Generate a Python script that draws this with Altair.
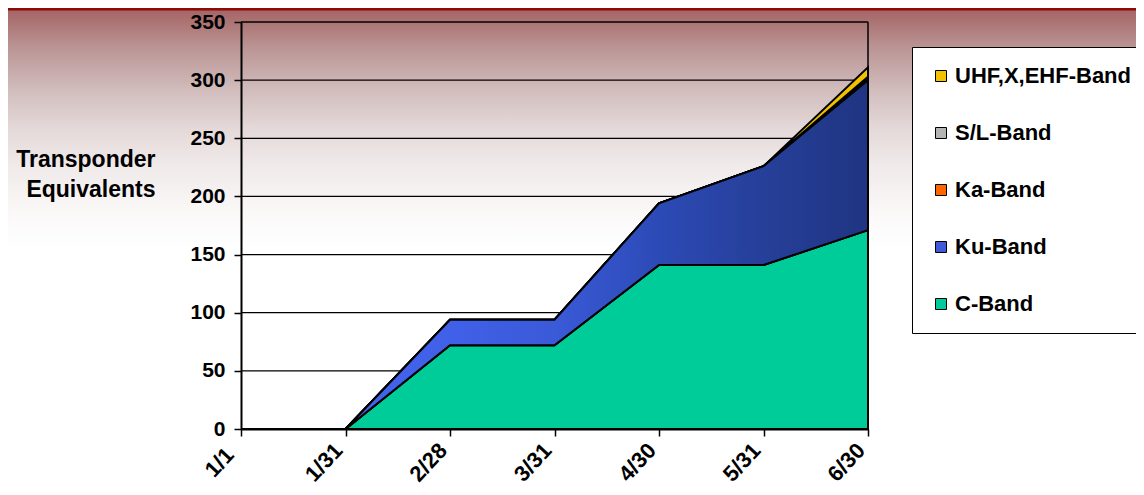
import altair as alt
import pandas as pd

# ---- data ----
dates = ["1/1", "1/31", "2/28", "3/31", "4/30", "5/31", "6/30"]
bands = ["C-Band", "Ku-Band", "Ka-Band", "S/L-Band", "UHF,X,EHF-Band"]
c_band = [0, 0, 72, 72, 141, 141, 171]
ku_band = [0, 0, 22, 22, 53, 85, 129]
ka_band = [0, 0, 0, 0, 0, 0, 1]
sl_band = [0, 0, 0, 0, 0, 0, 2]
uhf_band = [0, 0, 0, 0, 0, 0, 8]
band_colors = ["#00CC99", "#3D5BD6", "#FF6600", "#B4B4B4", "#F2C200"]
y_ticks = [0, 50, 100, 150, 200, 250, 300, 350]
legend_order = ["UHF,X,EHF-Band", "S/L-Band", "Ka-Band", "Ku-Band", "C-Band"]

series = [c_band, ku_band, ka_band, sl_band, uhf_band]
rows = []
for i, (b, vals) in enumerate(zip(bands, series)):
    for d, v in zip(dates, vals):
        rows.append({"date": d, "band": b, "value": v, "order": i})
long_df = pd.DataFrame(rows)
grid_df = pd.DataFrame({"value": y_ticks[1:]})
one = pd.DataFrame({"k": [0]})

W, H = 627, 407
PL, PT, PR, PB = 233, 14, 268, 58
FONT = "Liberation Sans"

xscale = alt.Scale(type="point", domain=dates, padding=0)
yscale = alt.Scale(domain=[0, 350], nice=False)
color_scale = alt.Scale(domain=legend_order,
                        range=[band_colors[4], band_colors[3], band_colors[2], band_colors[1], band_colors[0]])

x_axis = alt.Axis(title=None, labelAngle=-47, labelAlign="center", labelBaseline="middle",
                  labelOffset=-22, labelPadding=26, tickSize=7, zindex=1, grid=False,
                  labelFontSize=22)
y_axis = alt.Axis(values=y_ticks, title=["Transponder", "Equivalents"], grid=False,
                  tickSize=7, labelPadding=9, zindex=1, labelFontSize=21,
                  titleAngle=0, titleAlign="right", titleBaseline="top",
                  titleX=-86, titleY=126, titleLineHeight=30, titleFontSize=23)

bg_grad = alt.Gradient(
    gradient="linear", x1=0, y1=0, x2=0, y2=1,
    stops=[
        alt.GradientStop(offset=0.0, color="#a46262"),
        alt.GradientStop(offset=0.08, color="#ba9393"),
        alt.GradientStop(offset=0.17, color="#d1bcbc"),
        alt.GradientStop(offset=0.25, color="#e4d8d8"),
        alt.GradientStop(offset=0.33, color="#f0eaea"),
        alt.GradientStop(offset=0.42, color="#faf7f7"),
        alt.GradientStop(offset=0.5, color="#ffffff"),
        alt.GradientStop(offset=1.0, color="#ffffff"),
    ],
)
ku_grad = alt.Gradient(
    gradient="linear", x1=0, y1=0, x2=1, y2=0,
    stops=[
        alt.GradientStop(offset=0.0, color="#4668f2"),
        alt.GradientStop(offset=0.335, color="#4060e8"),
        alt.GradientStop(offset=0.5, color="#3a5ad8"),
        alt.GradientStop(offset=0.67, color="#2c4ab5"),
        alt.GradientStop(offset=0.83, color="#263f99"),
        alt.GradientStop(offset=1.0, color="#1f3582"),
    ],
)

background = alt.Chart(one).mark_rect(fill=bg_grad).encode(
    x=alt.value(-PL), x2=alt.value(W + PR), y=alt.value(-PT), y2=alt.value(H + PB)
)
top_line = alt.Chart(one).mark_rule(color="#8B0A0A", strokeWidth=3).encode(
    x=alt.value(-PL), x2=alt.value(W + PR), y=alt.value(-PT + 1)
)

grid = alt.Chart(grid_df).mark_rule(color="black", strokeWidth=1.3).encode(
    y=alt.Y("value:Q", scale=yscale, axis=y_axis)
)

areas = alt.Chart(long_df).mark_area(stroke="black", strokeWidth=2, strokeJoin="miter").encode(
    x=alt.X("date:O", scale=xscale, sort=dates, axis=x_axis),
    y=alt.Y("value:Q", stack="zero", scale=yscale, axis=y_axis),
    color=alt.Color("band:N", scale=color_scale,
                    legend=alt.Legend(title=None, orient="none", legendX=671, legendY=25)),
    order=alt.Order("order:Q", sort="ascending"),
)

ku_overlay = alt.Chart(long_df).transform_stack(
    stack="value", groupby=["date"], as_=["y0", "y1"],
    sort=[alt.SortField(field="order", order="ascending")],
).transform_filter(alt.datum.band == "Ku-Band").mark_area(
    fill=ku_grad, stroke="black", strokeWidth=2, strokeJoin="miter"
).encode(
    x=alt.X("date:O", scale=xscale, sort=dates, axis=x_axis),
    y=alt.Y("y1:Q", scale=yscale, axis=y_axis),
    y2="y0:Q",
)

right_border = alt.Chart(one).mark_rule(color="black", strokeWidth=1.5).encode(
    x=alt.datum("6/30", scale=xscale, axis=x_axis)
)

chart = alt.layer(background, top_line, grid, areas, ku_overlay, right_border).properties(
    width=W, height=H,
    padding={"left": PL, "top": PT, "right": PR, "bottom": PB},
    autosize=alt.AutoSizeParams(type="none"),
).configure_view(strokeWidth=0).configure_axis(
    domainColor="black", domainWidth=2, tickColor="black", tickWidth=1.5,
    labelFont=FONT, labelFontSize=21, labelFontWeight="bold", labelColor="black",
    titleFont=FONT, titleFontSize=23, titleFontWeight="bold", titleColor="black",
).configure_legend(
    strokeColor="black", fillColor="white", padding=18, rowPadding=35,
    symbolType="square", symbolSize=121, symbolStrokeColor="black", symbolStrokeWidth=1,
    symbolOpacity=1, labelOffset=3, labelFont=FONT, labelFontSize=22, labelFontWeight="bold",
    labelColor="black", labelLimit=400, cornerRadius=0,
)

chart.save("out.html", embed_options={"renderer": "svg", "actions": False})
